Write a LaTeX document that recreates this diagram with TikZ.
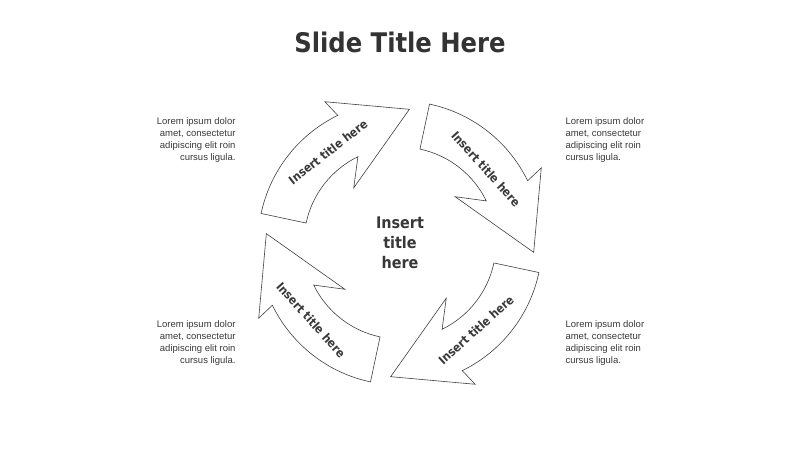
\documentclass[tikz,border=0pt]{standalone}
\usepackage{fontspec}
\usetikzlibrary{calc}
\setmainfont{DejaVu Sans}
\newfontfamily\bodyfont{Liberation Sans}
\newfontfamily\condfont{DejaVu Sans Condensed}
\begin{document}
\begin{tikzpicture}[x=1pt,y=1pt,
  arr/.style={draw=black!75,line width=0.6pt,fill=white,line join=miter},
  atext/.style={font=\condfont\bfseries\fontsize{12}{13}\selectfont,text=black!78},
  para/.style={font=\bodyfont\fontsize{9.5}{12}\selectfont,text=black!78}]
\useasboundingbox (0,0) rectangle (800,450);
\coordinate (c) at (400,207);
\foreach \A/\n in {168/a,78/b,-12/c,-102/d}{
  \draw[arr] ($(c)+(\A:142)$) arc[start angle=\A, end angle=\A-52, radius=142]
    -- ($(c)+(\A-50:160)$) -- ($(c)+(\A-82:134)$) -- ($(c)+(\A-38:72)$)
    -- ($(c)+(\A-52:96)$) arc[start angle=\A-52, end angle=\A, radius=96] -- cycle;
}
\node[font=\condfont\bfseries\fontsize{27}{30}\selectfont,text=black!80] (title) at (400,408) {Slide Title Here};
\node[atext,rotate=38] (t1) at (328,298) {Insert title here};
\node[atext,rotate=-48] (t2) at (486,281) {Insert title here};
\node[atext,rotate=42] (t3) at (476,120) {Insert title here};
\node[atext,rotate=-48] (t4) at (311,130) {Insert title here};
\node[font=\condfont\bfseries\fontsize{16}{20}\selectfont,text=black!78,align=center] (ctr) at (400,207) {Insert\\title\\here};
\node[para,align=right,anchor=east] (p1) at (239,310) {Lorem ipsum dolor\\amet, consectetur\\adipiscing elit roin\\cursus ligula.};
\node[para,align=left,anchor=west] (p2) at (562,310) {Lorem ipsum dolor\\amet, consectetur\\adipiscing elit roin\\cursus ligula.};
\node[para,align=left,anchor=west] (p3) at (562,107) {Lorem ipsum dolor\\amet, consectetur\\adipiscing elit roin\\cursus ligula.};
\node[para,align=right,anchor=east] (p4) at (239,107) {Lorem ipsum dolor\\amet, consectetur\\adipiscing elit roin\\cursus ligula.};
\end{tikzpicture}
\end{document}
